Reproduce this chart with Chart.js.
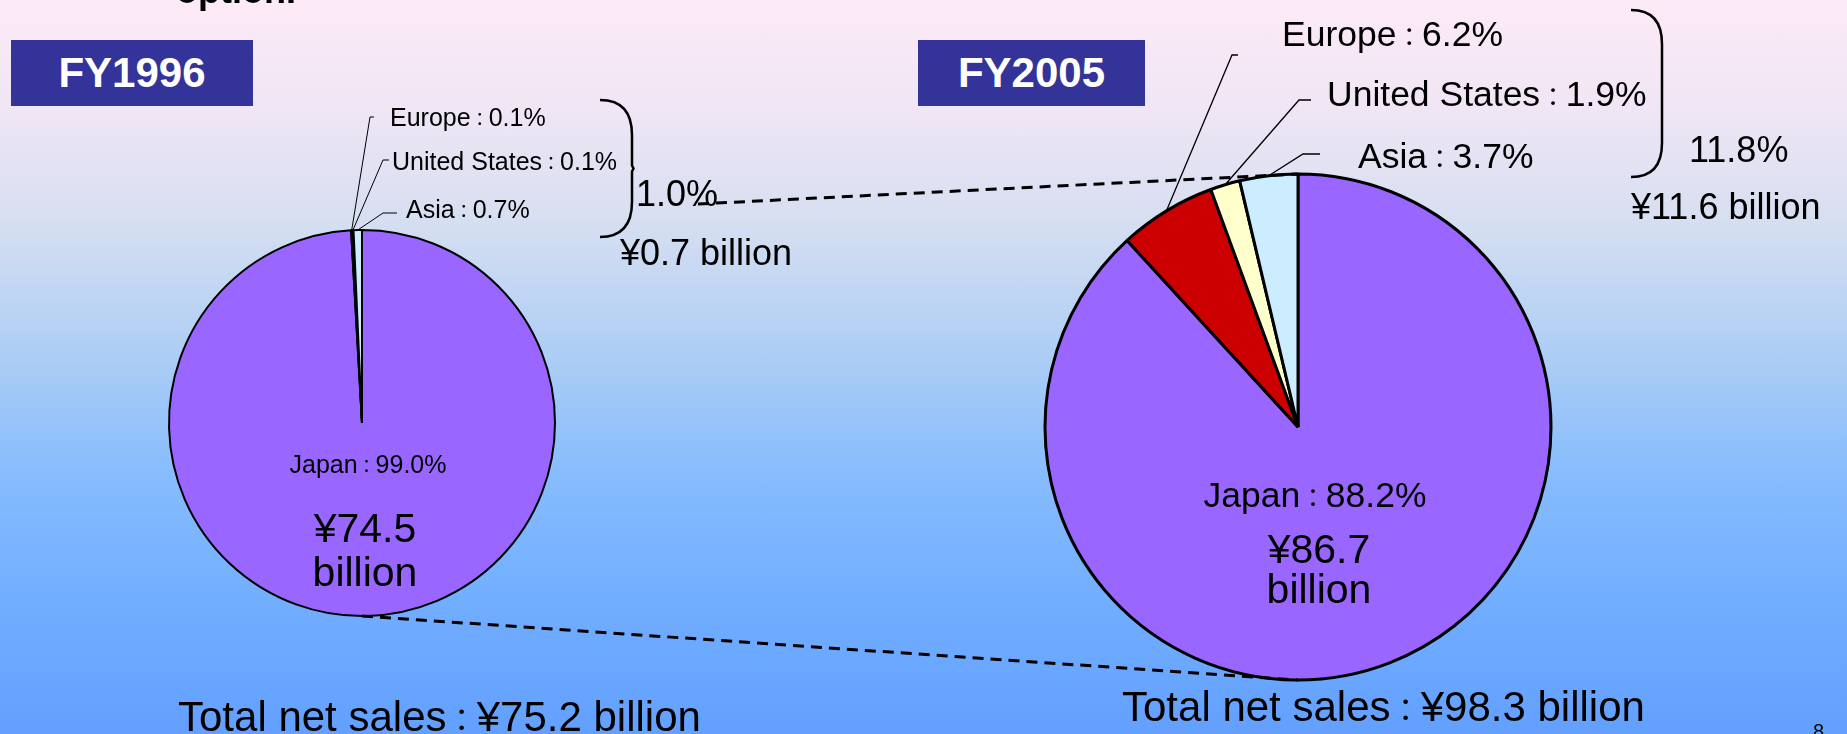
<!DOCTYPE html>
<html>
<head>
<meta charset="utf-8">
<title>Net sales by region FY1996 / FY2005</title>
<script src="https://cdn.jsdelivr.net/npm/chart.js"></script>
<style>
    body {
        margin: 0;
        width: 1847px;
        height: 734px;
        overflow: hidden;
        position: relative;
        font-family: "Liberation Sans", Arial, "Noto Sans CJK JP", sans-serif;
        background: linear-gradient(to bottom, #FDEAF7 0%, #F1E6F5 14%, #D6DFF1 30%, #AECEF5 48%, #88BDFD 64%, #71AEFF 82%, #63A0FF 100%);
    }
    canvas { position: absolute; }
    #pie1996 { left: 162px; top: 223px; z-index: 1; }
    #pie2005 { left: 1028px; top: 157px; z-index: 1; }
    #overlay { left: 0; top: 0; z-index: 2; pointer-events: none; }
    .year { position: absolute; top: 40px; height: 66px; line-height: 66px; background: #333399; color: #fff;
            font-weight: bold; font-size: 42px; text-align: center; z-index: 3; }
    .txt { position: absolute; white-space: nowrap; color: #000; z-index: 3; }
    .colon { font-size: 72%; }
</style>
</head>
<body>
<div class="year" id="year0" style="left:11px; width:242px;"></div>
<div class="year" id="year1" style="left:918px; width:227px;"></div>
<canvas id="pie1996" width="400" height="400"></canvas>
<canvas id="pie2005" width="540" height="540"></canvas>
<canvas id="overlay" width="1847" height="734"></canvas>

<script>
// Chart data (shares in %, sales in ¥ billion)
const regions = ['Japan', 'Europe', 'United States', 'Asia'];
const share1996 = [99.0, 0.1, 0.1, 0.7];
const share2005 = [88.2, 6.2, 1.9, 3.7];
const fiscalYears = ['FY1996', 'FY2005'];
const japanSales = [74.5, 86.7];
const overseasShare = [1.0, 11.8];
const overseasSales = [0.7, 11.6];
const totalSales = [75.2, 98.3];
const sliceColors = ['#9966FF', '#CC0000', '#FFFFCC', '#CCECFF'];

// Put a line of real text with its baseline at y (the full-width colon is set a bit smaller)
function addText(str, x, baseline, size, opts = {}) {
    const el = document.createElement('div');
    el.className = 'txt';
    str.split('：').forEach((part, i) => {
        if (i > 0) {
            const c = document.createElement('span');
            c.className = 'colon';
            c.textContent = '：';
            el.appendChild(c);
        }
        el.appendChild(document.createTextNode(part));
    });
    el.style.fontSize = size + 'px';
    el.style.lineHeight = size + 'px';
    el.style.top = (baseline - 0.8465 * size) + 'px';
    el.style.left = x + 'px';
    if (opts.center) el.style.transform = 'translateX(-50%)';
    if (opts.bold) el.style.fontWeight = 'bold';
    document.body.appendChild(el);
}

function makePie(id, values, radius, border) {
    return new Chart(document.getElementById(id), {
        type: 'pie',
        data: {
            labels: regions,
            datasets: [{
                data: values,
                backgroundColor: sliceColors,
                borderColor: '#000',
                borderWidth: border
            }]
        },
        options: {
            responsive: false,
            animation: false,
            radius: radius,
            layout: { padding: 0 },
            plugins: { legend: { display: false }, tooltip: { enabled: false } }
        }
    });
}

const pie1996 = makePie('pie1996', share1996, 193, 2);
const pie2005 = makePie('pie2005', share2005, 253, 3);

const pct = v => v.toFixed(1) + '%';

// Titles
document.getElementById('year0').textContent = fiscalYears[0];
document.getElementById('year1').textContent = fiscalYears[1];

// Leftover slide text cut at the top edge
addText('option.', 176, 3, 36, { bold: true });

// labels: [slice index, label x, baseline, tick x start, tick x end, tick y]
const leaders1996 = [
    [1, 390, 126, 374, 370, 117],
    [2, 392, 170, 389, 383, 160],
    [3, 406, 218, 397, 383, 213]
];
const leaders2005 = [
    [1, 1282, 47, 1238, 1232, 55],
    [2, 1327, 107, 1311, 1299, 100],
    [3, 1358, 169, 1320, 1303, 154]
];
leaders1996.forEach(l => addText(regions[l[0]] + '：' + pct(share1996[l[0]]), l[1], l[2], 25));
leaders2005.forEach(l => addText(regions[l[0]] + '：' + pct(share2005[l[0]]), l[1], l[2], 35.5));

addText(pct(overseasShare[0]), 636, 206, 36);
addText('¥' + overseasSales[0] + ' billion', 620, 265, 36);
addText(pct(overseasShare[1]), 1689, 162, 36);
addText('¥' + overseasSales[1] + ' billion', 1631, 219, 36);

addText(regions[0] + '：' + pct(share1996[0]), 368, 473, 25, { center: true });
addText('¥' + japanSales[0], 365, 543, 41, { center: true });
addText('billion', 365, 587, 41, { center: true });
addText(regions[0] + '：' + pct(share2005[0]), 1315, 508, 35.5, { center: true });
addText('¥' + japanSales[1], 1319, 564, 41, { center: true });
addText('billion', 1319, 604, 41, { center: true });

addText('Total net sales：¥' + totalSales[0] + ' billion', 178, 732, 42);
addText('Total net sales：¥' + totalSales[1] + ' billion', 1122, 722, 42);
addText('8', 1813, 738, 20);

// Leader lines, braces and dashed connectors, anchored on the pies' own arcs
function drawOverlay() {
    const ctx = document.getElementById('overlay').getContext('2d');
    const geo = [pie1996, pie2005].map(ch => {
        const arcs = ch.getDatasetMeta(0).data;
        const ox = ch.canvas.offsetLeft, oy = ch.canvas.offsetTop;
        return { arcs, cx: ox + arcs[0].x, cy: oy + arcs[0].y, r: arcs[0].outerRadius };
    });
    ctx.strokeStyle = '#000';

    [leaders1996, leaders2005].forEach((set, k) => {
        const g = geo[k];
        ctx.lineWidth = k ? 1.3 : 1;
        set.forEach(l => {
            const a = g.arcs[l[0]];
            const mid = (a.startAngle + a.endAngle) / 2;
            ctx.beginPath();
            ctx.moveTo(l[3], l[5]);
            ctx.lineTo(l[4], l[5]);
            ctx.lineTo(g.cx + Math.cos(mid) * g.r, g.cy + Math.sin(mid) * g.r);
            ctx.stroke();
        });
    });

    function brace(x0, x1, top, bottom, kink) {
        const mid = (top + bottom) / 2, bend = (x1 - x0) * 1.1;
        ctx.beginPath();
        ctx.moveTo(x0, top);
        ctx.quadraticCurveTo(x1, top, x1, top + bend);
        ctx.lineTo(x1, mid - 3);
        ctx.lineTo(x1 + kink, mid);
        ctx.lineTo(x1, mid + 3);
        ctx.lineTo(x1, bottom - bend);
        ctx.quadraticCurveTo(x1, bottom, x0, bottom);
        ctx.stroke();
    }
    ctx.lineWidth = 2.5;
    brace(600, 632, 100, 237, 1.5);
    brace(1631, 1662, 10, 177, 0);

    ctx.setLineDash([11, 7]);
    ctx.lineWidth = 3;
    ctx.beginPath();
    ctx.moveTo(698, 204);
    ctx.lineTo(geo[1].cx, geo[1].cy - geo[1].r);
    ctx.stroke();
    ctx.beginPath();
    ctx.moveTo(geo[0].cx, geo[0].cy + geo[0].r);
    ctx.lineTo(geo[1].cx, geo[1].cy + geo[1].r);
    ctx.stroke();
    ctx.setLineDash([]);
}
drawOverlay();
</script>
</body>
</html>
